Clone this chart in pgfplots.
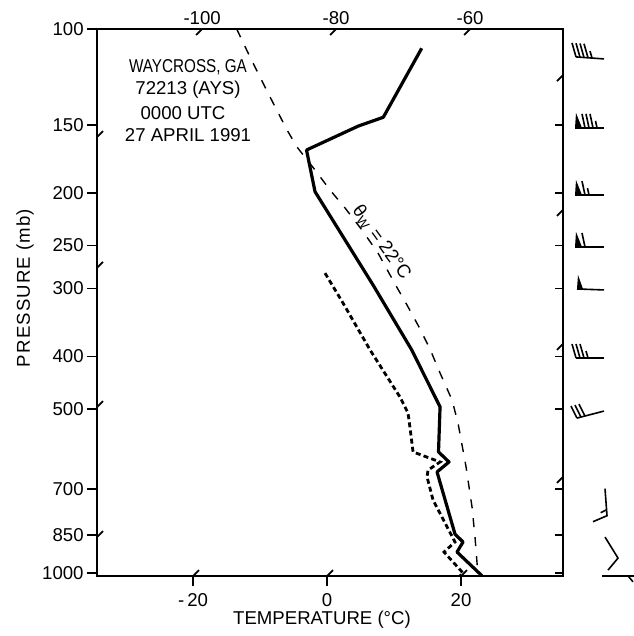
\documentclass[border=0pt]{standalone}
\usepackage{fontspec}
\setmainfont{Liberation Sans}
\newfontfamily\spacedfont{Liberation Sans}[LetterSpace=6]
\usepackage{graphicx}
\usepackage{pgfplots}
\pgfplotsset{compat=1.18}
\begin{document}
\begin{tikzpicture}[font=\fontsize{9.3}{11}\selectfont]
\useasboundingbox (0,0) rectangle (316.5pt,-318pt);
% main axis: left and bottom
\begin{axis}[
  at={(48.5pt,-288pt)}, anchor=south west,
  scale only axis, width=233pt, height=273.5pt,
  xmin=-34.33, xmax=35.22,
  ymode=log, y dir=reverse, ymin=100, ymax=1012.8,
  ytick={100,150,200,250,300,400,500,700,850,1000},
  yticklabels={100,150,200,250,300,400,500,700,850,1000},
  yminorticks=false, xminorticks=false,
  xtick={-20,0,20}, xticklabels={-\,20,0,20},
  xtick pos=left, ytick pos=left,
  tick align=outside, major tick length=5pt,
  axis line style={line width=1pt},
  every tick/.style={black, line width=0.9pt},
  tick label style={font=\fontsize{9.3}{11}\selectfont},
  yticklabel style={inner sep=1.5pt},
  no markers, clip=false,
]
% temperature
\addplot[black, line width=1.6pt, line join=round] coordinates {
(14.13,108.5) (8.40,145.3) (4.67,150.8) (-3.06,166.9) (-1.79,199.1)
(6.87,295.5) (12.64,389) (16.87,495) (16.64,599) (18.21,625) (16.42,652)
(19.10,848) (20.30,877) (19.40,915) (23.13,1012)};
% dew point
\addplot[black, line width=1.4pt, dash pattern=on 2.5pt off 1.6pt] coordinates {
(-0.30,281) (2.39,319) (6.42,389) (10.90,475) (12.09,508) (12.39,541)
(12.84,599) (16.87,625) (15.07,647) (14.93,666) (15.82,734) (19.10,877)
(17.46,915) (20.30,1000) (19.85,1012)};
% moist adiabat theta_w = 22 C
\addplot[black, line width=0.7pt, dash pattern=on 4.5pt off 5pt] coordinates {
(-13.48,100) (-11.49,112.6) (-8.81,131.1) (-5.97,153.3) (-4.48,164.8)
(-1.79,181.6) (0.45,197.7) (2.69,213.3) (5.22,234.2) (7.61,258.1)
(10.15,294.3) (11.94,321.7) (13.73,353) (15.37,387.6) (16.87,428.9)
(18.66,480.8) (19.55,530) (20.75,638) (21.64,756) (22.09,859) (22.54,1012)};
% isotherm stubs
\draw[line width=0.9pt] (axis cs:-34.33,158) -- ++(3pt,3pt);
\draw[line width=0.9pt] (axis cs:-34.33,274.9) -- ++(3pt,3pt);
\draw[line width=0.9pt] (axis cs:-34.33,495.3) -- ++(3pt,3pt);
\draw[line width=0.9pt] (axis cs:-34.33,858.7) -- ++(3pt,3pt);
\draw[line width=0.9pt] (axis cs:-20,1012.8) -- ++(3pt,3pt);
\draw[line width=0.9pt] (axis cs:0,1012.8) -- ++(3pt,3pt);
\draw[line width=0.9pt] (axis cs:20,1012.8) -- ++(3pt,3pt);
\draw[line width=0.9pt] (axis cs:-18.64,100) -- ++(-3pt,-3pt);
\draw[line width=0.9pt] (axis cs:1.36,100) -- ++(-3pt,-3pt);
\draw[line width=0.9pt] (axis cs:21.36,100) -- ++(-3pt,-3pt);
\draw[line width=0.9pt] (axis cs:35.22,121.5) -- ++(-3pt,-3pt);
\draw[line width=0.9pt] (axis cs:35.22,215.1) -- ++(-3pt,-3pt);
\draw[line width=0.9pt] (axis cs:35.22,379.3) -- ++(-3pt,-3pt);
\draw[line width=0.9pt] (axis cs:35.22,666) -- ++(-3pt,-3pt);
% wind barb stations
\coordinate (w1) at (axis cs:41.34,113.5);
\coordinate (w2) at (axis cs:41.34,152);
\coordinate (w3) at (axis cs:41.34,202);
\coordinate (w4) at (axis cs:41.34,251.6);
\coordinate (w5) at (axis cs:41.34,300.5);
\coordinate (w6) at (axis cs:41.34,402.5);
\coordinate (w7) at (axis cs:41.34,503.9);
\coordinate (w8) at (axis cs:41.49,700);
\coordinate (w9) at (axis cs:41.49,859);
\coordinate (w10) at (axis cs:41.04,1012);
\end{axis}
% right ticks and top labels
\begin{axis}[
  at={(48.5pt,-288pt)}, anchor=south west,
  scale only axis, width=233pt, height=273.5pt,
  xmin=-34.33, xmax=35.22,
  ymode=log, y dir=reverse, ymin=100, ymax=1012.8,
  ytick={100,150,200,250,300,400,500,700,850,1000},
  yticklabels={}, yminorticks=false, xminorticks=false,
  ytick pos=right, tick align=inside, major tick length=4pt,
  xtick={-18.64,1.36,21.36}, xticklabels={-100,-80,-60},
  xtick pos=right, xticklabel pos=right,
  xtick style={draw=none},
  ytick style={black, line width=0.9pt},
  axis line style={draw=none},
  tick label style={font=\fontsize{9.3}{11}\selectfont},
  xticklabel style={inner sep=2pt},
]
\addplot[draw=none] coordinates {(0,500)};
\end{axis}
% wind barbs (pixel units relative to station)
\begin{scope}[x=0.5pt,y=-0.5pt,line width=0.8pt]
 % right frame line
 \draw[line width=1.2pt] (563,28.5) -- (563,576.5);
 % 1
 \begin{scope}[shift={(w1)}]
  \draw (0,0) -- (-28,-2);
  \foreach \d in {28,24,20,16}{\draw (-\d,{-\d/14}) -- ++(-4,-14);}
  \draw (-12,-0.9) -- ++(-2,-7);
 \end{scope}
 % 2
 \begin{scope}[shift={(w2)}]
  \draw (0,0) -- (-29,0);
  \fill (-29,0) -- (-22,0) -- (-28,-15) -- cycle;
  \foreach \d in {19,15,11}{\draw (-\d,0) -- ++(-3,-14);}
  \draw (-7,0) -- ++(-1.5,-7);
 \end{scope}
 % 3
 \begin{scope}[shift={(w3)}]
  \draw (0,0) -- (-29,0);
  \fill (-29,0) -- (-22,0) -- (-28,-15) -- cycle;
  \draw (-19,0) -- ++(-3,-14);
  \draw (-15,0) -- ++(-1.5,-7);
 \end{scope}
 % 4
 \begin{scope}[shift={(w4)}]
  \draw (0,0) -- (-29,0);
  \fill (-29,0) -- (-22,0) -- (-28,-15) -- cycle;
  \draw (-19,0) -- ++(-3,-14);
 \end{scope}
 % 5
 \begin{scope}[shift={(w5)}]
  \draw (0,1) -- (-27,0);
  \fill (-27,0) -- (-21,0) -- (-26,-14) -- cycle;
 \end{scope}
 % 6
 \begin{scope}[shift={(w6)}]
  \draw (0,0) -- (-28,0);
  \foreach \d in {28,24,20}{\draw (-\d,0) -- ++(-4,-14);}
  \draw (-16,0) -- ++(-2,-7);
 \end{scope}
 % 7
 \begin{scope}[shift={(w7)}]
  \draw (0,0) -- (-27,7);
  \draw (-27,7) -- ++(-6,-12);
  \draw (-23,6) -- ++(-6,-12);
  \draw (-19,5) -- ++(-6,-12);
 \end{scope}
 % 8
 \begin{scope}[shift={(w8)}]
  \draw (0,0) -- (2,27) -- (-12,33);
  \draw (1.6,21) -- ++(-6,3);
 \end{scope}
 % 9
 \begin{scope}[shift={(w9)}]
  \draw (0,0) -- (13,21) -- (3,33);
 \end{scope}
 % 10
 \begin{scope}[shift={(w10)}]
  \draw (0,0) -- (32,0);
  \draw (26,0) -- ++(5,6);
 \end{scope}
\end{scope}
% texts (pixel coordinates)
\begin{scope}[x=0.5pt,y=-0.5pt]
 \node at (188,67) {\scalebox{0.82}[1]{WAYCROSS, GA}};
 \node at (188,90) {72213 (AYS)};
 \node at (183,113) {0000 UTC};
 \node at (188,135) {27 APRIL 1991};
 \node[rotate=-54] at (381.5,242.5) {θ\textsubscript{W} = 22°C};
 \node[rotate=90] at (25,288) {\spacedfont PRESSURE (mb)};
 \node at (322,620) {TEMPERATURE (°C)};
\end{scope}
\end{tikzpicture}
\end{document}
